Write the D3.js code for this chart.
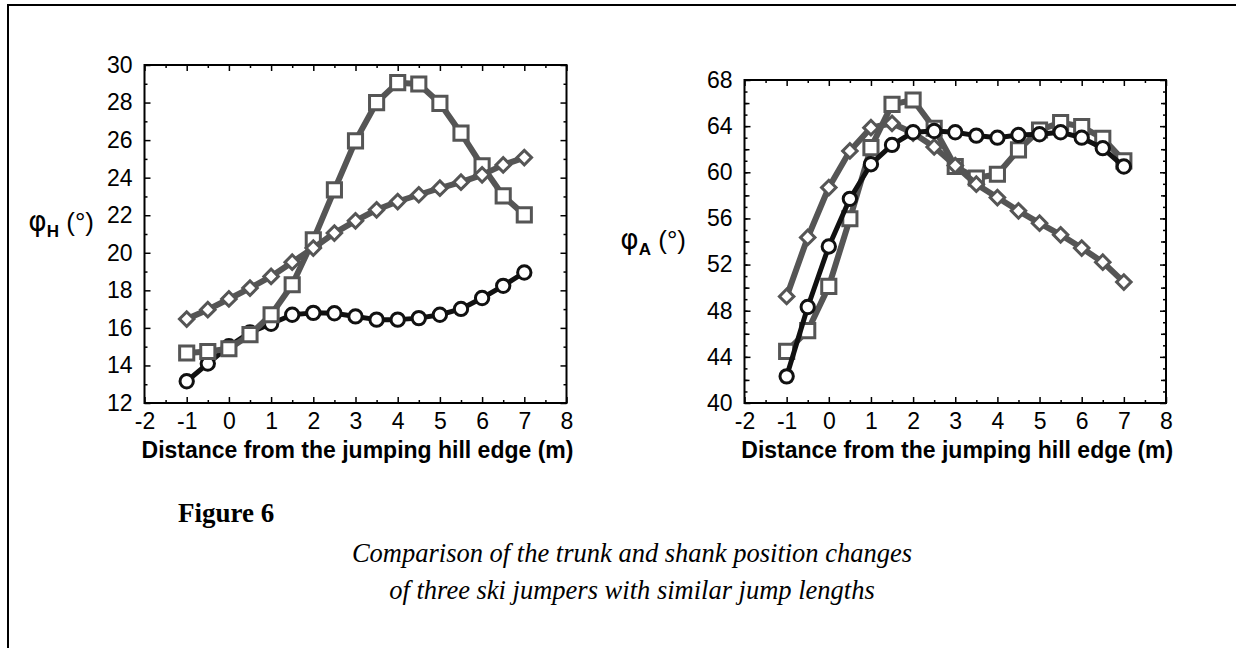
<!DOCTYPE html>
<html>
<head>
<meta charset="utf-8">
<script src="https://cdn.jsdelivr.net/npm/d3@7"></script>
<style>
  body { margin: 0; background: #fff; }
  svg { display: block; }
  .tick text { font-family: "Liberation Sans", Arial, sans-serif; font-size: 23px; fill: #000; }
  .tick line { stroke: #000; stroke-width: 1.5; }
</style>
</head>
<body>
<div id="wrapper"></div>
<script>
// distances along the hill (m)
const dist = [-1, -0.5, 0, 0.5, 1, 1.5, 2, 2.5, 3, 3.5, 4, 4.5, 5, 5.5, 6, 6.5, 7];

// trunk angle phi_H
const hipSquares  = [14.66, 14.74, 14.89, 15.64, 16.7, 18.3, 20.69, 23.35, 25.96, 28.0, 29.06, 28.99, 27.96, 26.37, 24.63, 23.03, 22.02];
const hipDiamonds = [16.47, 16.97, 17.54, 18.12, 18.74, 19.5, 20.25, 21.05, 21.7, 22.29, 22.73, 23.09, 23.44, 23.76, 24.15, 24.68, 25.07];
const hipCircles  = [13.16, 14.1, 15.02, 15.76, 16.22, 16.7, 16.8, 16.78, 16.61, 16.44, 16.44, 16.52, 16.7, 17.01, 17.59, 18.24, 18.95];

// shank angle phi_A
const ankSquares  = [44.48, 46.27, 50.11, 55.97, 62.14, 65.89, 66.27, 63.82, 60.5, 59.5, 59.83, 61.94, 63.67, 64.31, 63.96, 62.95, 60.99];
const ankDiamonds = [49.24, 54.35, 58.68, 61.85, 63.87, 64.25, 63.4, 62.2, 60.58, 58.97, 57.81, 56.66, 55.59, 54.58, 53.43, 52.21, 50.48];
const ankCircles  = [42.31, 48.32, 53.57, 57.7, 60.7, 62.37, 63.47, 63.58, 63.47, 63.18, 63.0, 63.24, 63.3, 63.47, 63.0, 62.09, 60.5];

const xTicks = [-2, -1, 0, 1, 2, 3, 4, 5, 6, 7, 8];
const hipTicks = [12, 14, 16, 18, 20, 22, 24, 26, 28, 30];
const ankTicks = [40, 44, 48, 52, 56, 60, 64, 68];

const xTitle = "Distance from the jumping hill edge (m)";
const figLabel = "Figure 6";
const caption = ["Comparison of the trunk and shank position changes",
                 "of three ski jumpers with similar jump lengths"];

const gray = "#555", black = "#111";

var svg = d3.select("#wrapper")
  .append("svg")
    .attr("width", 1236)
    .attr("height", 648);

// page frame (top and left edges show)
svg.append("path")
  .attr("d", "M8,648 V5 H1240")
  .attr("fill", "none")
  .attr("stroke", "#000")
  .attr("stroke-width", 2);

function seriesOf(vals) {
  return dist.map(function(d, i) { return [d, vals[i]]; });
}

function drawPanel(opt) {
  var x = d3.scaleLinear().domain([-2, 8]).range([opt.left, opt.right]);
  var y = d3.scaleLinear().domain(opt.yDomain).range([opt.bottom, opt.top]);

  var g = svg.append("g");

  // minor ticks first
  var xMinor = d3.range(-1.5, 8, 1);
  g.append("g").attr("transform", "translate(0," + opt.bottom + ")")
    .call(d3.axisBottom(x).tickValues(xMinor).tickSize(-3).tickFormat(""));
  g.append("g").attr("transform", "translate(0," + opt.top + ")")
    .call(d3.axisTop(x).tickValues(xMinor).tickSize(-3).tickFormat(""));
  g.append("g").attr("transform", "translate(" + opt.left + ",0)")
    .call(d3.axisLeft(y).tickValues(opt.yMinor).tickSize(-3).tickFormat(""));
  g.append("g").attr("transform", "translate(" + opt.right + ",0)")
    .call(d3.axisRight(y).tickValues(opt.yMinor).tickSize(-3).tickFormat(""));
  if (opt.yMid) {
    g.append("g").attr("transform", "translate(" + opt.left + ",0)")
      .call(d3.axisLeft(y).tickValues(opt.yMid).tickSize(-5).tickFormat(""));
    g.append("g").attr("transform", "translate(" + opt.right + ",0)")
      .call(d3.axisRight(y).tickValues(opt.yMid).tickSize(-5).tickFormat(""));
  }

  // major ticks with labels
  g.append("g").attr("transform", "translate(0," + opt.bottom + ")")
    .call(d3.axisBottom(x).tickValues(xTicks).tickSize(-6).tickPadding(10).tickFormat(d3.format("d")));
  g.append("g").attr("transform", "translate(0," + opt.top + ")")
    .call(d3.axisTop(x).tickValues(xTicks).tickSize(-6).tickFormat(""));
  g.append("g").attr("transform", "translate(" + opt.left + ",0)")
    .call(d3.axisLeft(y).tickValues(opt.yTicks).tickSize(-6).tickPadding(12));
  g.append("g").attr("transform", "translate(" + opt.right + ",0)")
    .call(d3.axisRight(y).tickValues(opt.yTicks).tickSize(-6).tickFormat(""));

  g.selectAll(".domain").remove();
  g.selectAll(".tick text").text(function() { return this.textContent.replace("\u2212", "-"); });

  g.append("rect")
    .attr("x", opt.left).attr("y", opt.top)
    .attr("width", opt.right - opt.left).attr("height", opt.bottom - opt.top)
    .attr("fill", "none").attr("stroke", "#000").attr("stroke-width", 2);

  var line = d3.line().x(function(d) { return x(d[0]); }).y(function(d) { return y(d[1]); });

  opt.series.forEach(function(s) {
    var data = seriesOf(s.values);
    g.append("path")
      .datum(data)
      .attr("d", line)
      .attr("fill", "none")
      .attr("stroke", s.color)
      .attr("stroke-width", s.shape == "circle" ? 5 : 6)
      .attr("stroke-linejoin", "round");

    var sym = s.shape == "circle" ? d3.symbol(d3.symbolCircle, 140)
            : s.shape == "square" ? d3.symbol(d3.symbolSquare, 200)
            : d3.symbol(d3.symbolSquare, 105);
    g.selectAll(null)
      .data(data)
      .enter()
      .append("path")
        .attr("d", sym)
        .attr("transform", function(d) {
          return "translate(" + x(d[0]) + "," + y(d[1]) + ")" + (s.shape == "diamond" ? " rotate(45)" : "");
        })
        .attr("fill", "#fff")
        .attr("stroke", s.color)
        .attr("stroke-width", 3);
  });

  // x axis title
  svg.append("text")
    .attr("x", (opt.left + opt.right) / 2 + 2)
    .attr("y", 458)
    .attr("text-anchor", "middle")
    .style("font-family", "'Liberation Sans', Arial, sans-serif")
    .style("font-weight", "bold")
    .style("font-size", "23px")
    .text(xTitle);

  // y axis label: phi with subscript
  var yl = svg.append("text")
    .attr("x", opt.yLabelX)
    .attr("y", opt.yLabelY)
    .attr("text-anchor", "end")
    .style("font-family", "'Liberation Sans', Arial, sans-serif")
    .style("font-size", "26px");
  yl.append("tspan").style("font-family", "'DejaVu Sans', sans-serif").style("font-size", "28px").text("\u03c6");
  yl.append("tspan").attr("dy", 6).style("font-size", "17px").style("font-weight", "bold").text(opt.sub);
  yl.append("tspan").attr("dy", -6).text(" (\u00b0)");
}

drawPanel({
  left: 144.5, right: 566.5, top: 65, bottom: 403,
  yDomain: [12, 30], yTicks: hipTicks, yMinor: d3.range(13, 30, 2),
  yLabelX: 94, yLabelY: 231, sub: "H",
  series: [
    { values: hipCircles, color: black, shape: "circle" },
    { values: hipSquares, color: gray, shape: "square" },
    { values: hipDiamonds, color: gray, shape: "diamond" }
  ]
});

drawPanel({
  left: 744.5, right: 1166, top: 80, bottom: 403,
  yDomain: [40, 68], yTicks: ankTicks, yMinor: d3.range(41, 68, 1), yMid: d3.range(42, 68, 4),
  yLabelX: 686, yLabelY: 249, sub: "A",
  series: [
    { values: ankSquares, color: gray, shape: "square" },
    { values: ankDiamonds, color: gray, shape: "diamond" },
    { values: ankCircles, color: black, shape: "circle" }
  ]
});

// figure caption
svg.append("text")
  .attr("x", 178)
  .attr("y", 522)
  .style("font-family", "'Liberation Serif', 'Times New Roman', serif")
  .style("font-weight", "bold")
  .style("font-size", "27px")
  .text(figLabel);

svg.selectAll(".caption")
  .data(caption)
  .enter()
  .append("text")
    .attr("class", "caption")
    .attr("x", 632)
    .attr("y", function(d, i) { return 562 + i * 37; })
    .attr("text-anchor", "middle")
    .style("font-family", "'Liberation Serif', 'Times New Roman', serif")
    .style("font-style", "italic")
    .style("font-size", "26.5px")
    .text(function(d) { return d; });
</script>
</body>
</html>
